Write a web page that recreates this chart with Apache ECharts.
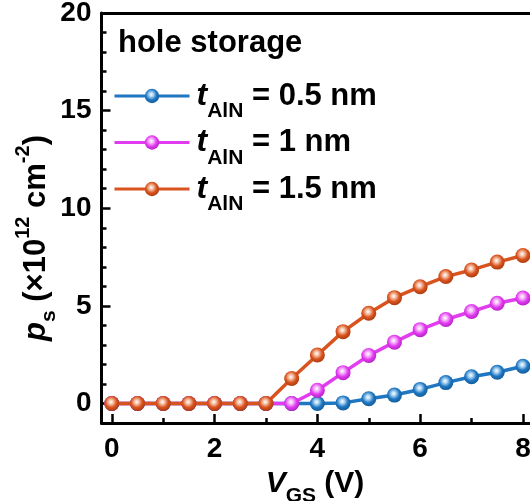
<!DOCTYPE html>
<html>
<head>
<meta charset="utf-8">
<script src="https://cdn.jsdelivr.net/npm/echarts@6/dist/echarts.min.js"></script>
<style>
  html, body { margin: 0; padding: 0; background: #fff; }
  #chart { width: 530px; height: 501px; }
</style>
</head>
<body>
<div id="chart"></div>
<script>
// Gate voltage sweep (V)
const vgs = [0, 0.5, 1, 1.5, 2, 2.5, 3, 3.5, 4, 4.5, 5, 5.5, 6, 6.5, 7, 7.5, 8];

// Stored hole density, 10^12 cm^-2, for each AlN thickness
const ps05 = [0, 0, 0, 0, 0, 0, 0, 0, 0, 0.03, 0.24, 0.43, 0.72, 1.07, 1.37, 1.6, 1.91];
const ps10 = [0, 0, 0, 0, 0, 0, 0, 0, 0.68, 1.58, 2.46, 3.14, 3.78, 4.3, 4.71, 5.13, 5.4];
const ps15 = [0, 0, 0, 0, 0, 0, 0, 1.28, 2.48, 3.68, 4.62, 5.42, 5.98, 6.5, 6.84, 7.24, 7.58];

const seriesNames = ['0.5', '1', '1.5'];
const xLabels = [0, 2, 4, 6, 8];
const xMinor = [1, 3, 5, 7];
const yLabels = [0, 5, 10, 15, 20];
const yMinor = [1, 2, 3, 4, 6, 7, 8, 9, 11, 12, 13, 14, 16, 17, 18, 19];

const colors = ['#1f77c2', '#e23cf0', '#d9531e'];
const lights = ['#a9d2f2', '#f6b8fb', '#f5c0a6'];
const darks = ['#135a96', '#b21fc2', '#a83a0f'];

const FONT = '"Liberation Sans", Arial, sans-serif';

function ball(i) {
  return {
    type: 'radial', x: 0.45, y: 0.4, r: 0.62,
    colorStops: [
      { offset: 0, color: '#ffffff' },
      { offset: 0.25, color: lights[i] },
      { offset: 0.6, color: colors[i] },
      { offset: 1, color: darks[i] }
    ]
  };
}

const dataSets = [ps05, ps10, ps15];
const series = dataSets.map((vals, i) => ({
  name: seriesNames[i],
  type: 'line',
  data: vgs.map((x, k) => [x, vals[k]]),
  symbol: 'circle',
  symbolSize: 15,
  lineStyle: { color: colors[i], width: 3.5 },
  itemStyle: { color: ball(i), borderWidth: 0 },
  z: 2 + i,
  animation: false
}));

const chart = echarts.init(document.getElementById('chart'), null, { renderer: 'canvas' });

const labelStyle = { fontFamily: FONT, fontWeight: 'bold', fontSize: 28, color: '#000' };
const X_MIN = -0.2, X_MAX = 8.4, Y_MIN = -1, Y_MAX = 20;

chart.setOption({
  backgroundColor: '#fff',
  animation: false,
  // plot area runs past the right edge of the canvas
  grid: { left: 101.5, top: 13, width: 442, height: 410, outerBoundsMode: 'none', containLabel: false },
  xAxis: [
    {
      type: 'value', min: X_MIN, max: X_MAX,
      axisLine: { show: true, onZero: false, lineStyle: { color: '#000', width: 3 } },
      axisTick: { show: true, inside: true, length: 9, lineStyle: { width: 2.5, color: '#000' }, customValues: xLabels },
      axisLabel: Object.assign({ margin: 12, customValues: xLabels }, labelStyle),
      splitLine: { show: false }
    },
    {
      type: 'value', min: X_MIN, max: X_MAX, position: 'bottom',
      axisLine: { show: false, onZero: false },
      axisTick: { show: true, inside: true, length: 5, lineStyle: { width: 2.5, color: '#000' }, customValues: xMinor },
      axisLabel: { show: false },
      splitLine: { show: false }
    },
    {
      type: 'value', min: X_MIN, max: X_MAX, position: 'top',
      axisLine: { show: true, onZero: false, lineStyle: { color: '#000', width: 3 } },
      axisTick: { show: false },
      axisLabel: { show: false },
      splitLine: { show: false }
    }
  ],
  yAxis: [
    {
      type: 'value', min: Y_MIN, max: Y_MAX,
      axisLine: { show: true, onZero: false, lineStyle: { color: '#000', width: 3 } },
      axisTick: { show: true, inside: true, length: 9, lineStyle: { width: 2.5, color: '#000' }, customValues: yLabels },
      axisLabel: Object.assign({ margin: 10, customValues: yLabels }, labelStyle),
      splitLine: { show: false }
    },
    {
      type: 'value', min: Y_MIN, max: Y_MAX, position: 'left',
      axisLine: { show: false, onZero: false },
      axisTick: { show: true, inside: true, length: 5, lineStyle: { width: 2.5, color: '#000' }, customValues: yMinor },
      axisLabel: { show: false },
      splitLine: { show: false }
    }
  ],
  legend: {
    orient: 'vertical',
    left: 113, top: 80,
    itemWidth: 75, itemHeight: 18,
    itemGap: 4.5,
    padding: 0,
    data: seriesNames,
    lineStyle: { width: 3 },
    formatter: name => '{t|t}{s|AlN}{v| = ' + name + ' nm}',
    textStyle: {
      rich: {
        t: { fontFamily: FONT, fontWeight: 'bold', fontStyle: 'italic', fontSize: 32, color: '#000', lineHeight: 36, padding: [0, 0, 0, 2] },
        s: { fontFamily: FONT, fontWeight: 'bold', fontSize: 21, color: '#000', lineHeight: 36, verticalAlign: 'bottom', padding: [0, 0, -8, 0] },
        v: { fontFamily: FONT, fontWeight: 'bold', fontSize: 31, color: '#000', lineHeight: 36 }
      }
    }
  },
  graphic: [
    {
      type: 'text', left: 118, top: 28,
      style: { text: 'hole storage', fontFamily: FONT, fontWeight: 'bold', fontSize: 31, fill: '#000' }
    },
    {
      type: 'text', x: 315, y: 484,
      style: {
        text: '{v|V}{s|GS}{n| (V)}',
        align: 'center', verticalAlign: 'middle',
        rich: {
          v: { fontFamily: FONT, fontWeight: 'bold', fontStyle: 'italic', fontSize: 30, fill: '#000', lineHeight: 34 },
          s: { fontFamily: FONT, fontWeight: 'bold', fontSize: 21, fill: '#000', lineHeight: 34, verticalAlign: 'bottom', padding: [0, 0, -6, 0] },
          n: { fontFamily: FONT, fontWeight: 'bold', fontSize: 30, fill: '#000', lineHeight: 34 }
        }
      }
    },
    {
      type: 'text', x: 36, y: 238, rotation: Math.PI / 2,
      style: {
        text: '{p|p}{s|s}{n| (\u00d710}{u|12}{n| cm}{u|-2}{n|)}',
        align: 'center', verticalAlign: 'middle',
        rich: {
          p: { fontFamily: FONT, fontWeight: 'bold', fontStyle: 'italic', fontSize: 31, fill: '#000', lineHeight: 34 },
          s: { fontFamily: FONT, fontWeight: 'bold', fontSize: 21, fill: '#000', lineHeight: 34, verticalAlign: 'bottom', padding: [0, 0, -7, 0] },
          n: { fontFamily: FONT, fontWeight: 'bold', fontSize: 31, fill: '#000', lineHeight: 34 },
          u: { fontFamily: FONT, fontWeight: 'bold', fontSize: 20, fill: '#000', lineHeight: 34, verticalAlign: 'top', padding: [-6, 0, 0, 0] }
        }
      }
    }
  ],
  series: series
});
</script>
</body>
</html>
